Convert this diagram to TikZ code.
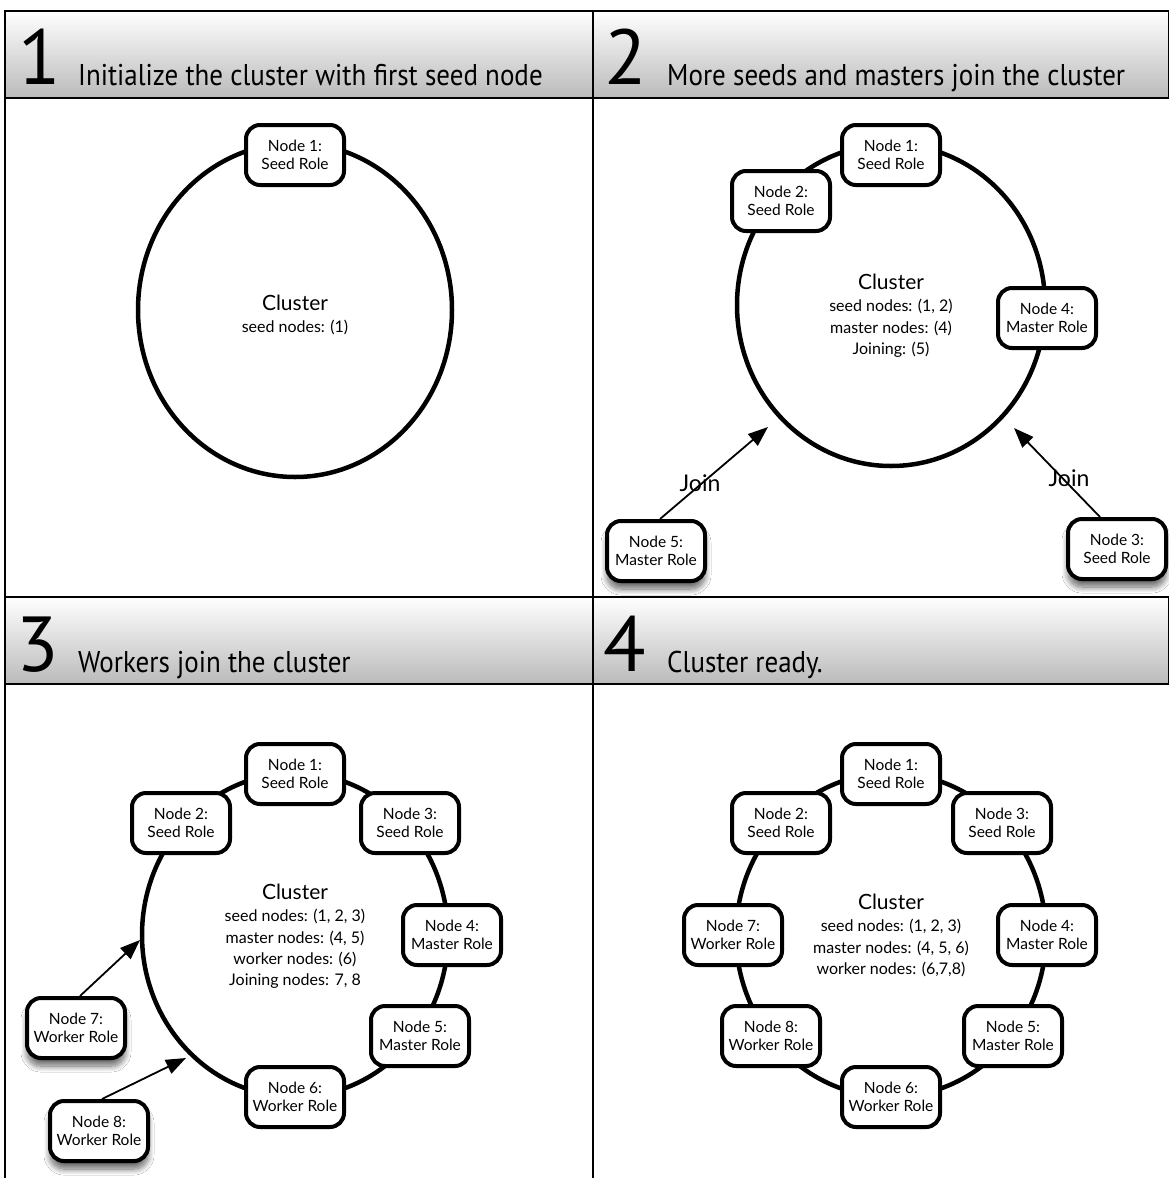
\documentclass[tikz,border=0pt]{standalone}
\usepackage{fontspec}
\setmainfont{Lato}
\newfontfamily\headfont[FakeStretch=0.9]{PT Sans}
\newfontfamily\numfont{PT Sans}
\usetikzlibrary{arrows.meta,shadows.blur}

\tikzset{
  role/.style={draw, line width=4pt, rounded corners=14pt, fill=white,
    minimum width=98pt, minimum height=60pt, align=center, inner sep=5pt,
    font=\fontsize{15.5}{18.5}\selectfont},
  lifted/.style={blur shadow={shadow xshift=0pt, shadow yshift=-8pt,
    shadow blur steps=12, shadow blur radius=6pt, shadow opacity=60}},
  ring/.style={line width=4.5pt},
  joinarrow/.style={line width=1.8pt, -{Triangle[length=20pt,width=15pt]}},
  frameline/.style={line width=2.5pt},
  header/.style={top color=white, bottom color=black!27, draw, line width=2.5pt},
  stepnum/.style={font=\numfont\fontsize{78}{80}\selectfont, anchor=base west, inner sep=0pt},
  steptitle/.style={font=\headfont\fontsize{30}{34}\selectfont, anchor=base west, inner sep=0pt},
  clustertitle/.style={font=\fontsize{21}{24}\selectfont, anchor=mid, inner sep=0pt},
  clusterinfo/.style={font=\fontsize{16}{19}\selectfont, anchor=mid, inner sep=0pt},
  joinlabel/.style={font=\fontsize{23}{26}\selectfont, inner sep=0pt},
}

\begin{document}
\begin{tikzpicture}[x=1pt, y=-1pt]
\useasboundingbox (0,0) rectangle (1169,1178);
\fill[white] (0,0) rectangle (1169,1178);

% ---- grid and header bars ----
\draw[frameline] (5,11) -- (5,1178);
\draw[frameline] (593,11) -- (593,1178);
\draw[header] (5,11) rectangle (593,98);
\draw[header] (593,11) rectangle (1169,98);
\draw[header] (5,597) rectangle (593,684);
\draw[header] (593,597) rectangle (1169,684);

\node[stepnum] (h1n) at (18,84) {1};
\node[steptitle] (h1t) at (78,85) {Initialize the cluster with first seed node};
\node[stepnum] (h2n) at (604,84) {2};
\node[steptitle] (h2t) at (667,85) {More seeds and masters join the cluster};
\node[stepnum] (h3n) at (16,671) {3};
\node[steptitle] (h3t) at (78,672) {Workers join the cluster};
\node[stepnum] (h4n) at (603,671) {4};
\node[steptitle] (h4t) at (667,672) {Cluster ready.};

% ---- step 1 ----
\draw[ring] (295,310) ellipse [x radius=157, y radius=167];
\node[role] (p1n1) at (295,155) {Node 1:\\Seed Role};
\node[clustertitle] (p1title) at (295,308) {Cluster};
\node[clusterinfo] (p1seed) at (295,330) {seed nodes: (1)};

% ---- step 2 ----
\draw[ring] (891,305) ellipse [x radius=154, y radius=161];
\node[role] (p2n1) at (891,155) {Node 1:\\Seed Role};
\node[role] (p2n2) at (781,201) {Node 2:\\Seed Role};
\node[role] (p2n4) at (1047,318) {Node 4:\\Master Role};
\node[role, lifted] (p2n5) at (656,551) {Node 5:\\Master Role};
\node[role, lifted] (p2n3) at (1117,549) {Node 3:\\Seed Role};
\node[clustertitle] (p2title) at (891,287) {Cluster};
\node[clusterinfo] (p2seed) at (891,309) {seed nodes: (1, 2)};
\node[clusterinfo] (p2master) at (891,331) {master nodes: (4)};
\node[clusterinfo] (p2joining) at (891,352) {Joining: (5)};
\coordinate (p2in5) at (768,427);
\coordinate (p2in3) at (1014,428);
\draw[joinarrow] ([xshift=4pt]p2n5.north) -- (p2in5);
\draw[joinarrow] ([xshift=-17pt]p2n3.north) -- (p2in3);
\node[joinlabel] (p2join5) at (700,483) {Join};
\node[joinlabel] (p2join3) at (1069,478) {Join};

% ---- step 3 ----
\draw[ring] (295,935) ellipse [x radius=153, y radius=162];
\node[role] (p3n1) at (295,774) {Node 1:\\Seed Role};
\node[role] (p3n2) at (181,823) {Node 2:\\Seed Role};
\node[role] (p3n3) at (410,823) {Node 3:\\Seed Role};
\node[role] (p3n4) at (452,935) {Node 4:\\Master Role};
\node[role] (p3n5) at (420,1036) {Node 5:\\Master Role};
\node[role] (p3n6) at (295,1097) {Node 6:\\Worker Role};
\node[role, lifted] (p3n7) at (76,1028) {Node 7:\\Worker Role};
\node[role, lifted] (p3n8) at (99,1131) {Node 8:\\Worker Role};
\node[clustertitle] (p3title) at (295,897) {Cluster};
\node[clusterinfo] (p3seed) at (295,919) {seed nodes: (1, 2, 3)};
\node[clusterinfo] (p3master) at (295,941) {master nodes: (4, 5)};
\node[clusterinfo] (p3worker) at (295,962) {worker nodes: (6)};
\node[clusterinfo] (p3joining) at (295,983) {Joining nodes: 7, 8};
\coordinate (p3in7) at (140,940);
\coordinate (p3in8) at (186,1058);
\draw[joinarrow] ([xshift=4pt]p3n7.north) -- (p3in7);
\draw[joinarrow] ([xshift=3pt]p3n8.north) -- (p3in8);

% ---- step 4 ----
\draw[ring] (891,935) ellipse [x radius=155, y radius=162];
\node[role] (p4n1) at (891,774) {Node 1:\\Seed Role};
\node[role] (p4n2) at (781,823) {Node 2:\\Seed Role};
\node[role] (p4n3) at (1002,823) {Node 3:\\Seed Role};
\node[role] (p4n4) at (1047,935) {Node 4:\\Master Role};
\node[role] (p4n5) at (1013,1036) {Node 5:\\Master Role};
\node[role] (p4n6) at (891,1097) {Node 6:\\Worker Role};
\node[role] (p4n7) at (733,935) {Node 7:\\Worker Role};
\node[role] (p4n8) at (771,1036) {Node 8:\\Worker Role};
\node[clustertitle] (p4title) at (891,907) {Cluster};
\node[clusterinfo] (p4seed) at (891,929) {seed nodes: (1, 2, 3)};
\node[clusterinfo] (p4master) at (891,951) {master nodes: (4, 5, 6)};
\node[clusterinfo] (p4worker) at (891,972) {worker nodes: (6,7,8)};
\end{tikzpicture}
\end{document}
